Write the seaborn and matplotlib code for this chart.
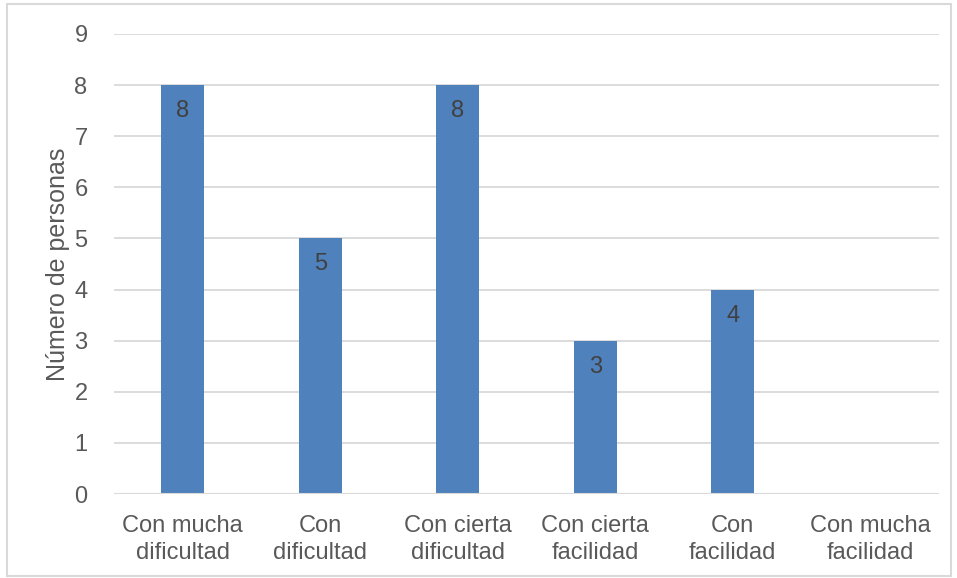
import matplotlib
matplotlib.use("Agg")
import matplotlib.pyplot as plt
import seaborn as sns
import pandas as pd
from matplotlib.patches import Rectangle

categorias = ["Con mucha\ndificultad", "Con\ndificultad", "Con cierta\ndificultad",
              "Con cierta\nfacilidad", "Con\nfacilidad", "Con mucha\nfacilidad"]
personas = [8, 5, 8, 3, 4, 0]
ticks_y = [0, 1, 2, 3, 4, 5, 6, 7, 8, 9]

sns.set_theme(style="white")
plt.rcParams["font.family"] = ["Liberation Sans", "DejaVu Sans"]

df = pd.DataFrame({"categoria": categorias, "personas": personas})

fig = plt.figure(figsize=(9.57, 5.78), dpi=100)
ax = fig.add_axes([0.1191, 0.1453, 0.8621, 0.7959])

sns.barplot(data=df, x="categoria", y="personas", color="#4F81BD",
            saturation=1, width=0.31, linewidth=0, ax=ax, zorder=3)

ax.set_ylim(0, 9)
ax.set_yticks(ticks_y)
ax.yaxis.grid(True, color="#D9D9D9", linewidth=1.3, zorder=0)
ax.set_axisbelow(True)
for s in ax.spines.values():
    s.set_visible(False)
ax.axhline(0, color="#D9D9D9", linewidth=1.5, zorder=4)

ax.tick_params(axis="both", length=0, labelsize=17, colors="#595959")
ax.tick_params(axis="y", pad=19)
ax.tick_params(axis="x", pad=15)
for lbl in ax.get_xticklabels():
    lbl.set_linespacing(1.3)
ax.set_xlabel("")
ax.set_ylabel("Número de personas", fontsize=18, color="#595959", labelpad=3)

for patch, v in zip(ax.patches, personas):
    if v > 0:
        ax.annotate(str(v), (patch.get_x() + patch.get_width() / 2, v),
                    xytext=(0, -26), textcoords="offset pixels",
                    ha="center", va="center", fontsize=17, color="#404040", zorder=5)

fig.patches.append(Rectangle((7 / 957, 0.003), 944 / 957, 1 - 4 / 578 - 0.003,
                             transform=fig.transFigure, fill=False,
                             edgecolor="#D9D9D9", linewidth=1.5))

fig.savefig("out.png", dpi=100)
